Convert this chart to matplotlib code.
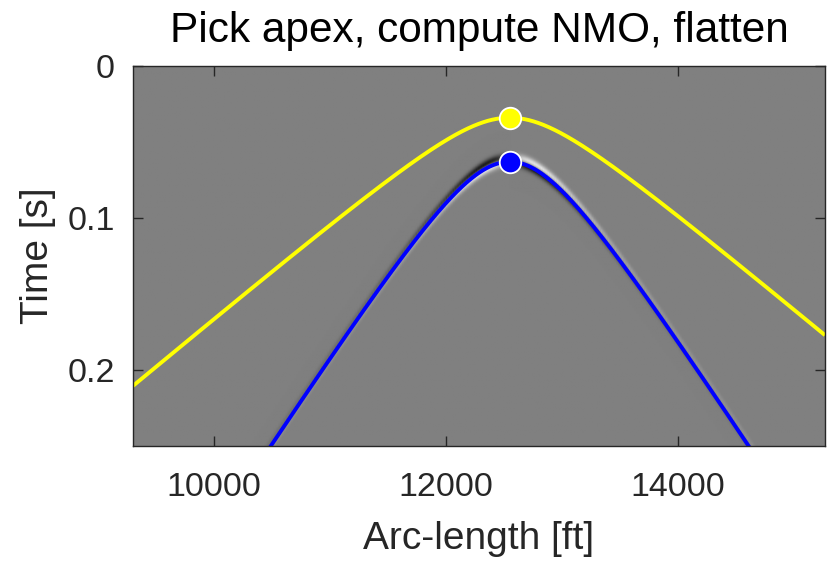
import numpy as np
import matplotlib
matplotlib.use("Agg")
import matplotlib.pyplot as plt

plt.rcParams['font.family'] = ['Liberation Sans', 'DejaVu Sans']

# picked apex and NMO velocities for the two hyperbolas
apex_x = 12550.0          # ft
apex_t = [0.034, 0.063]   # s  (yellow, blue)
nmo_v = [15650.0, 8520.0] # ft/s
curve_colors = ['#ffff00', '#0000ff']

x_lim = [9300, 15270]
t_lim = [0, 0.25]

# synthetic gather: one event riding on the blue hyperbola
xs = np.arange(x_lim[0], x_lim[1] + 20, 20.0)
ts = np.arange(0, 0.2505, 0.0005)
X, T = np.meshgrid(xs, ts)
t_ev = np.sqrt(apex_t[1] ** 2 + ((X - apex_x) / nmo_v[1]) ** 2) - 0.0012
tau = T - t_ev
sig = 0.0022
odd = -tau / sig * np.exp(-0.5 * (tau / sig) ** 2)
side = np.tanh((X - apex_x) / 200.0)
amp = side * (0.07 + 0.93 * np.exp(-np.abs(X - apex_x) / 420.0))
gather = np.clip(amp * odd * 2.6, -1, 1)

fig = plt.figure(figsize=(8.32, 5.63), dpi=100)
ax = fig.add_axes([133 / 832, 1 - 446 / 563, 692 / 832, 380 / 563])

ax.imshow(gather, cmap='gray', vmin=-1, vmax=1, aspect='auto',
          extent=[xs[0], xs[-1], ts[-1], ts[0]], interpolation='bilinear')

xx = np.linspace(x_lim[0], x_lim[1], 600)
for t0, v, c in zip(apex_t, nmo_v, curve_colors):
    tt = np.sqrt(t0 ** 2 + ((xx - apex_x) / v) ** 2)
    ax.plot(xx, tt, color=c, lw=2.8, solid_capstyle='butt')
for t0, c in zip(apex_t, curve_colors):
    ax.plot(apex_x, t0, 'o', ms=15.5, mfc=c, mec='white', mew=1.3)

ax.set_xlim(x_lim)
ax.set_ylim(t_lim[1], t_lim[0])
ax.set_xticks([10000, 12000, 14000])
ax.set_yticks([0, 0.1, 0.2])
ax.set_yticklabels(['0', '0.1', '0.2'])

dark = '#262626'
for s in ax.spines.values():
    s.set_color(dark)
    s.set_linewidth(1.0)
ax.tick_params(direction='in', length=7, width=1.0, color=dark,
               top=True, right=True, labelsize=24.5, labelcolor=dark)
ax.tick_params(axis='x', pad=19)
ax.tick_params(axis='y', pad=13)

ax.set_xlabel('Arc-length [ft]', fontsize=28, color=dark, labelpad=13)
ax.set_ylabel('Time [s]', fontsize=28, color=dark, labelpad=8)
ax.set_title('Pick apex, compute NMO, flatten', fontsize=30.5, color='black', pad=17)

fig.savefig('out.png', dpi=100)
